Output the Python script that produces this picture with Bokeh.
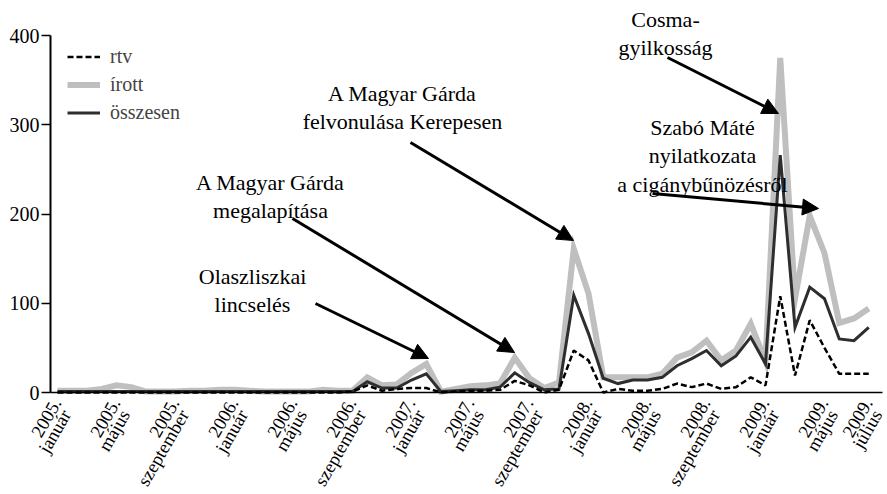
import math
from bokeh.plotting import figure
from bokeh.models import (Range1d, FixedTicker, Legend, LegendItem, Label, Arrow,
                          NormalHead, LinearAxis)
from bokeh.embed import file_html
from bokeh.resources import INLINE

# ---- data -------------------------------------------------------------
month_index = list(range(56))

tick_positions = [0, 4, 8, 12, 16, 20, 24, 28, 32, 36, 40, 44, 48, 52, 55]
tick_years = ["2005.", "2005.", "2005.", "2006.", "2006.", "2006.",
              "2007.", "2007.", "2007.", "2008.", "2008.", "2008.",
              "2009.", "2009.", "2009."]
tick_months = ["január", "május", "szeptember", "január", "május", "szeptember",
               "január", "május", "szeptember", "január", "május", "szeptember",
               "január", "május", "július"]
y_ticks = [0, 100, 200, 300, 400]

rtv = [0, 0, 0, 0, 0, 0, 0, 0, 0, 0,
       0, 0, 0, 0, 0, 0, 0, 0, 0, 0,
       1, 8, 2, 4, 5, 5, 0, 1, 2, 2,
       3, 13, 8, 0, 3, 47, 36, 0, 4, 2,
       2, 4, 10, 6, 10, 4, 6, 17, 8, 108,
       19, 81, 50, 21, 21, 21]

irott = [2, 2, 2, 4, 8, 6, 1, 1, 1, 2,
         2, 3, 3, 2, 1, 1, 1, 1, 3, 2,
         2, 17, 8, 9, 22, 32, 1, 4, 7, 8,
         10, 39, 16, 5, 11, 161, 111, 17, 17, 17,
         17, 21, 39, 45, 58, 36, 47, 77, 35, 375,
         105, 198, 156, 78, 83, 94]

osszesen = [1, 1, 1, 1, 1, 1, 1, 1, 1, 1,
            1, 1, 1, 1, 1, 1, 1, 1, 1, 1,
            1, 12, 5, 5, 14, 21, 1, 2, 3, 3,
            6, 22, 11, 3, 4, 109, 66, 16, 10, 14,
            14, 17, 30, 38, 47, 30, 41, 62, 32, 266,
            73, 118, 105, 60, 58, 73]

series_names = ["rtv", "írott", "összesen"]

# ---- layout helpers (canvas pixels -> data coordinates) ----------------
X0, DX = 57.0, 14.75
Y0, DY = 392.0, 0.8925


def px_x(xp):
    return (xp - X0) / DX


def px_y(yp):
    return (Y0 - yp) / DY


FONT = "'Liberation Serif'"
W, H = 887, 492

p = figure(width=W, height=H,
           x_range=Range1d(px_x(0), px_x(W)),
           y_range=Range1d(px_y(H), px_y(0)),
           x_axis_location=None, y_axis_location=None,
           output_backend="svg", toolbar_location=None,
           min_border_left=0, min_border_right=0,
           min_border_top=0, min_border_bottom=0)

p.grid.visible = False
p.outline_line_color = None
p.background_fill_color = "white"

r_irott = p.line(month_index, irott, line_color="#bfbfbf", line_width=6,
                 line_join="miter")
r_ossz = p.line(month_index, osszesen, line_color="#2e2e2e", line_width=3,
                line_join="miter")
r_rtv = p.line(month_index, rtv, line_color="black", line_width=2.5,
               line_dash="6 3")

# y axis (placed at the left end of the time axis)
yax = LinearAxis(fixed_location=px_x(50), ticker=FixedTicker(ticks=y_ticks),
                 bounds=(0, 400), minor_tick_line_color=None,
                 major_tick_in=0, major_tick_out=9, major_tick_line_width=1.5,
                 axis_line_width=2, major_label_text_font=FONT,
                 major_label_text_font_size="20px",
                 major_label_text_color="black", major_label_standoff=2)
p.add_layout(yax, "left")

# x axis: line at value 0, labelled below with rotated two-line labels
xax = LinearAxis(fixed_location=0, ticker=FixedTicker(ticks=[]),
                 bounds=(px_x(50), px_x(882)),
                 axis_line_width=1.5, axis_line_color="black",
                 major_tick_line_color=None, minor_tick_line_color=None,
                 major_tick_in=0, major_tick_out=0, major_label_standoff=0)
p.add_layout(xax, "below")

for t, yr, mo in zip(tick_positions, tick_years, tick_months):
    p.add_layout(Label(x=t - 1 / DX, y=px_y(399), text=yr, angle=math.pi / 3,
                       text_align="right", text_baseline="middle",
                       text_font=FONT, text_font_size="18.5px",
                       text_color="black"))
    p.add_layout(Label(x=t + 9 / DX, y=px_y(411), text=mo, angle=math.pi / 3,
                       text_align="right", text_baseline="middle",
                       text_font=FONT, text_font_size="18.5px",
                       text_color="black"))

# legend
legend = Legend(items=[LegendItem(label=series_names[0], renderers=[r_rtv]),
                       LegendItem(label=series_names[1], renderers=[r_irott]),
                       LegendItem(label=series_names[2], renderers=[r_ossz])],
                location=(67, 367), margin=0, padding=10, spacing=3,
                glyph_width=33, glyph_height=25, label_height=25,
                label_standoff=10, border_line_color=None,
                background_fill_alpha=0,
                label_text_font=FONT, label_text_font_size="20px")
p.add_layout(legend)

# annotations
notes = [
    ("Olaszliszkai\nlincselés", 252, 263, (315, 303), (428, 358)),
    ("A Magyar Gárda\nmegalapítása", 270, 169, (292, 218), (514, 352)),
    ("A Magyar Gárda\nfelvonulása Kerepesen", 402, 80, (410, 142), (573, 240)),
    ("Cosma-\ngyilkosság", 665, 6, (667, 57), (778, 113)),
    ("Szabó Máté\nnyilatkozata\na cigánybűnözésről", 702, 114, (652, 193), (818, 208)),
]
for text, cx, top, start, end in notes:
    p.add_layout(Label(x=px_x(cx), y=px_y(top), text=text, text_align="center",
                       text_baseline="top", text_font=FONT,
                       text_font_size="22px", text_line_height=1.15,
                       text_color="black"))
    p.add_layout(Arrow(x_start=px_x(start[0]), y_start=px_y(start[1]),
                       x_end=px_x(end[0]), y_end=px_y(end[1]),
                       line_width=3, line_color="black",
                       end=NormalHead(size=16, fill_color="black",
                                      line_color="black", line_width=1)))

open("out.html", "w").write(file_html(p, INLINE))
